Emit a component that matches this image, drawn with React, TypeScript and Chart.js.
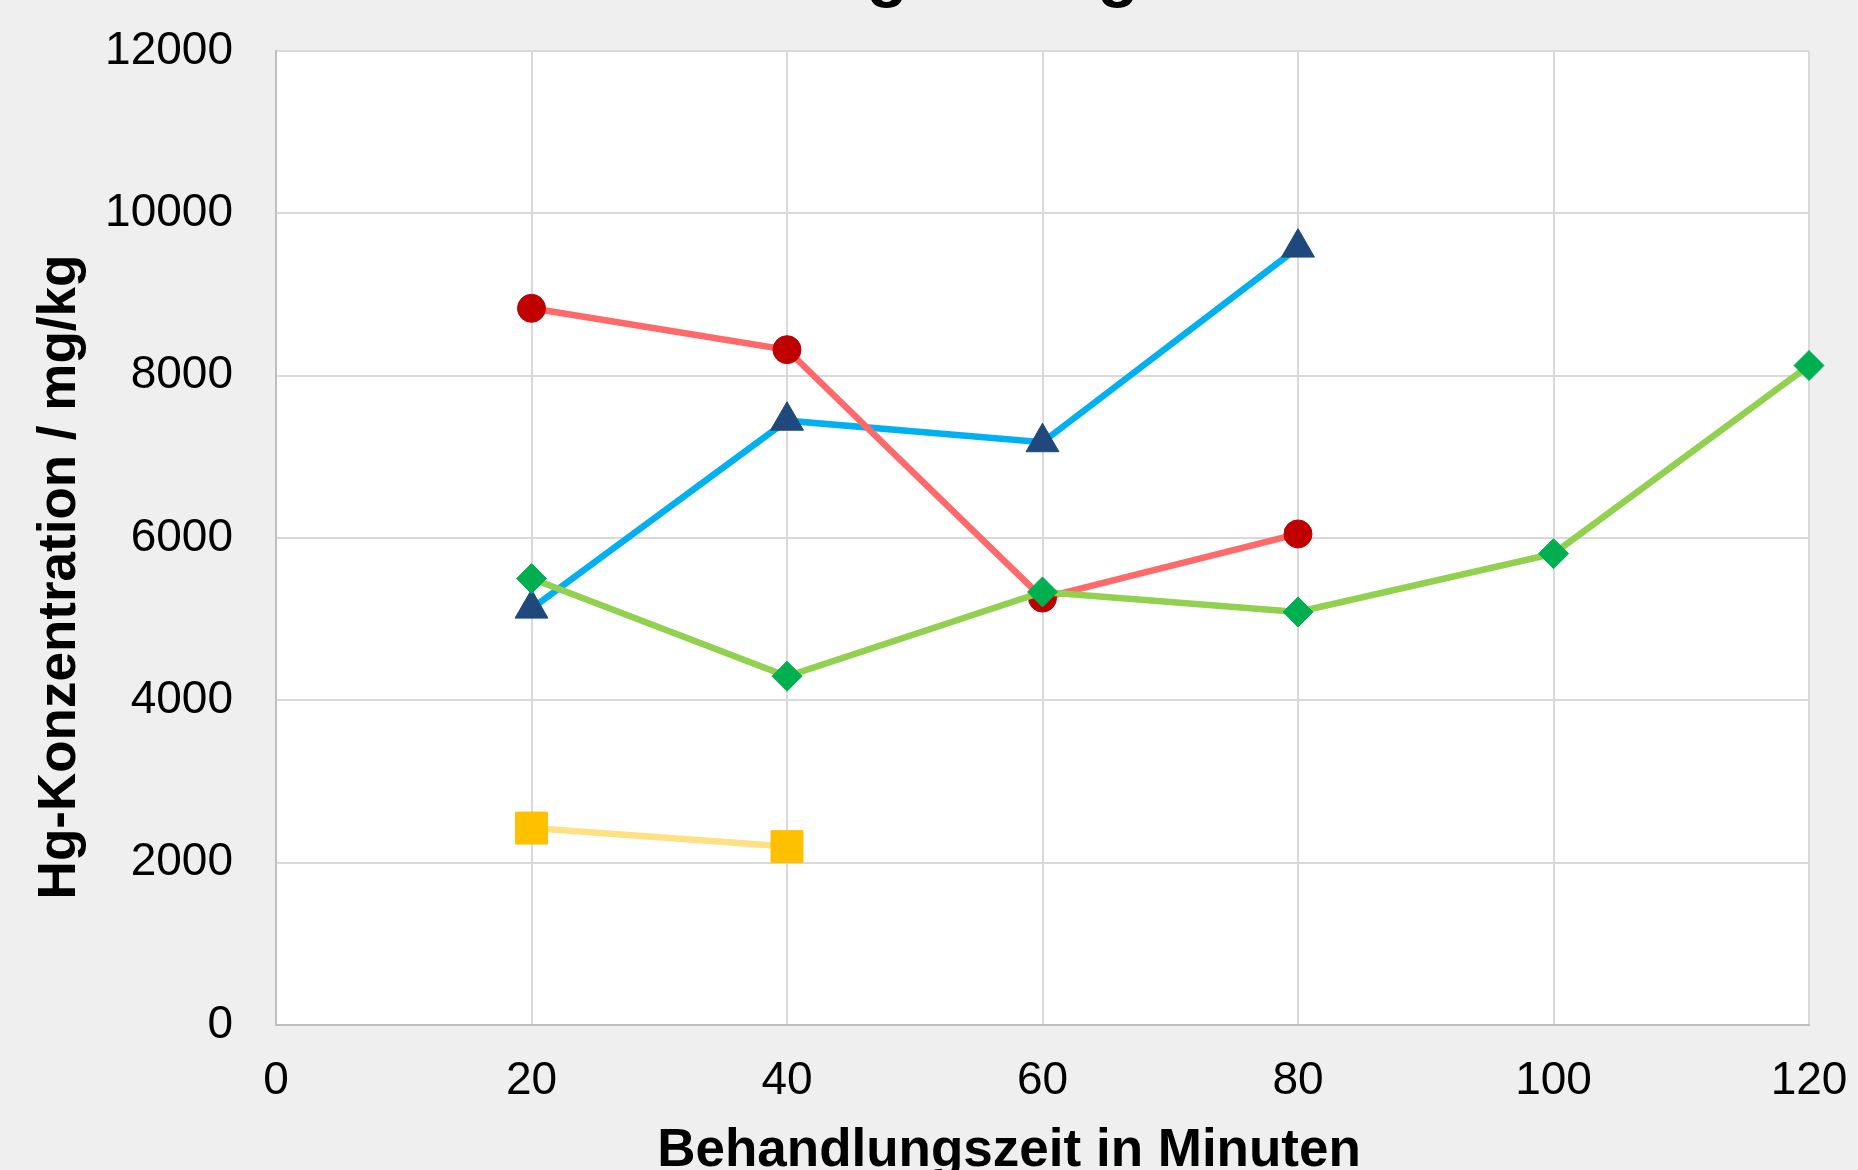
import React, { useEffect, useRef } from "react";
import { Chart, registerables } from "chart.js";

Chart.register(...registerables);

const timesRed = [20, 40, 60, 80];
const valuesRed = [8830, 8320, 5260, 6050];
const timesBlue = [20, 40, 60, 80];
const valuesBlue = [5130, 7445, 7180, 9578];
const timesGreen = [20, 40, 60, 80, 100, 120];
const valuesGreen = [5500, 4297, 5335, 5089, 5807, 8125];
const timesYellow = [20, 40];
const valuesYellow = [2426, 2198];

const xTicks = [0, 20, 40, 60, 80, 100, 120];
const yTicks = [0, 2000, 4000, 6000, 8000, 10000, 12000];

const chartTitle = "Entwicklung der Hg-Konzentration";
const xTitle = "Behandlungszeit in Minuten";
const yTitle = "Hg-Konzentration / mg/kg";

const FONT = "'Liberation Sans', Arial, sans-serif";

const toPoints = (xs: number[], ys: number[]) => xs.map((x, i) => ({ x, y: ys[i] }));

const bgPlugin = {
  id: "plotBg",
  beforeDraw(chart: any) {
    const { ctx, chartArea } = chart;
    ctx.save();
    ctx.fillStyle = "#EFEFEF";
    ctx.fillRect(0, 0, chart.width, chart.height);
    ctx.fillStyle = "#FFFFFF";
    ctx.fillRect(chartArea.left, chartArea.top, chartArea.right - chartArea.left, chartArea.bottom - chartArea.top);
    ctx.restore();
  },
};

const titlesPlugin = {
  id: "titlesText",
  afterDraw(chart: any) {
    const { ctx } = chart;
    ctx.save();
    ctx.fillStyle = "#000000";
    ctx.font = `bold 67px ${FONT}`;
    ctx.textAlign = "left";
    ctx.textBaseline = "alphabetic";
    ctx.fillText(chartTitle, 513, -6);
    ctx.font = `bold 53px ${FONT}`;
    ctx.textAlign = "center";
    ctx.fillText(xTitle, 1009, 1166);
    ctx.translate(75, 577);
    ctx.rotate(-Math.PI / 2);
    ctx.fillText(yTitle, 0, 0);
    ctx.restore();
  },
};

const zeroPad = (scale: any) => {
  scale.paddingTop = 0;
  scale.paddingBottom = 0;
  scale.paddingLeft = 0;
  scale.paddingRight = 0;
};

export default function App() {
  const ref = useRef<HTMLCanvasElement | null>(null);

  useEffect(() => {
    if (!ref.current) return;
    const lw = 6.5;
    const chart = new Chart(ref.current, {
      type: "line",
      data: {
        datasets: [
          {
            label: "Serie 3",
            data: toPoints(timesGreen, valuesGreen),
            borderColor: "#92D050",
            backgroundColor: "#00B050",
            borderWidth: lw,
            pointStyle: "rectRot",
            pointRadius: 15,
            pointBackgroundColor: "#00B050",
            pointBorderColor: "#00B050",
            pointBorderWidth: 1,
            clip: false,
          },
          {
            label: "Serie 1",
            data: toPoints(timesRed, valuesRed),
            borderColor: "#FF6969",
            backgroundColor: "#C00000",
            borderWidth: lw,
            pointStyle: "circle",
            pointRadius: 14,
            pointBackgroundColor: "#C00000",
            pointBorderColor: "#C00000",
            pointBorderWidth: 1,
            clip: false,
          },
          {
            label: "Serie 2",
            data: toPoints(timesBlue, valuesBlue),
            borderColor: "#00B0F0",
            backgroundColor: "#1F497D",
            borderWidth: lw,
            pointStyle: "triangle",
            pointRadius: 19,
            pointBackgroundColor: "#1F497D",
            pointBorderColor: "#1F497D",
            pointBorderWidth: 1,
            clip: false,
          },
          {
            label: "Serie 4",
            data: toPoints(timesYellow, valuesYellow),
            borderColor: "#FFE083",
            backgroundColor: "#FFC000",
            borderWidth: lw,
            pointStyle: "rect",
            pointRadius: 22.6,
            pointBackgroundColor: "#FFC000",
            pointBorderColor: "#FFC000",
            pointBorderWidth: 1,
            clip: false,
          },
        ],
      },
      options: {
        animation: false,
        responsive: true,
        maintainAspectRatio: false,
        layout: { padding: { top: 51, right: 49, left: 0, bottom: 0 } },
        plugins: {
          legend: { display: false },
          title: { display: false },
          tooltip: { enabled: false },
        },
        scales: {
          x: {
            type: "linear",
            min: xTicks[0],
            max: xTicks[xTicks.length - 1],
            afterBuildTicks: (scale: any) => {
              scale.ticks = xTicks.map((v) => ({ value: v }));
            },
            afterFit: (scale: any) => {
              scale.height = 145;
              zeroPad(scale);
            },
            ticks: {
              font: { family: FONT, size: 46 },
              color: "#000000",
              padding: 29,
              maxRotation: 0,
              autoSkip: false,
              callback: (v: any) => String(v),
            },
            grid: { color: "#D9D9D9", lineWidth: 2, drawTicks: false },
            border: { color: "#BFBFBF", width: 2 },
          },
          y: {
            type: "linear",
            min: yTicks[0],
            max: yTicks[yTicks.length - 1],
            afterBuildTicks: (scale: any) => {
              scale.ticks = yTicks.map((v) => ({ value: v }));
            },
            afterFit: (scale: any) => {
              scale.width = 276;
              zeroPad(scale);
            },
            ticks: {
              font: { family: FONT, size: 46 },
              color: "#000000",
              padding: 43,
              autoSkip: false,
              callback: (v: any) => String(v),
            },
            grid: { color: "#D9D9D9", lineWidth: 2, drawTicks: false },
            border: { color: "#BFBFBF", width: 2 },
          },
        },
      },
      plugins: [bgPlugin, titlesPlugin],
    });
    return () => chart.destroy();
  }, []);

  return (
    <div
      style={{
        position: "fixed",
        left: 0,
        top: 0,
        width: 1858,
        height: 1170,
        background: "#EFEFEF",
      }}
    >
      <canvas ref={ref} />
    </div>
  );
}
